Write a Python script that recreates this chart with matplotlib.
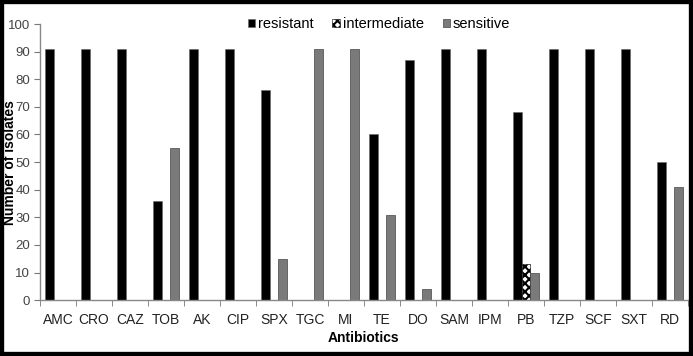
import numpy as np
import matplotlib
matplotlib.use('Agg')
import matplotlib.pyplot as plt
from matplotlib.patches import Rectangle

plt.rcParams['font.family'] = ['Liberation Sans', 'DejaVu Sans']
plt.rcParams['hatch.linewidth'] = 1.5

# Data
antibiotics = ['AMC', 'CRO', 'CAZ', 'TOB', 'AK', 'CIP', 'SPX', 'TGC', 'MI',
               'TE', 'DO', 'SAM', 'IPM', 'PB', 'TZP', 'SCF', 'SXT', 'RD']
resistant = [91, 91, 91, 36, 91, 91, 76, 0, 0, 60, 87, 91, 91, 68, 91, 91, 91, 50]
intermediate = [0, 0, 0, 0, 0, 0, 0, 0, 0, 0, 0, 0, 0, 13, 0, 0, 0, 0]
sensitive = [0, 0, 0, 55, 0, 0, 15, 91, 91, 31, 4, 0, 0, 10, 0, 0, 0, 41]

fig = plt.figure(figsize=(6.93, 3.56), dpi=100)
fig.patch.set_facecolor('white')
ax = fig.add_axes([0.0577, 0.157, 0.935, 0.7755])

x = np.arange(len(antibiotics))
w = 0.235
ax.bar(x - w, resistant, w, color='black', edgecolor='#666666', linewidth=0.4,
       label='resistant')
ax.bar(x, intermediate, w, color='white', edgecolor='black', hatch='xxxx',
       linewidth=0.4, label='intermediate')
ax.bar(x + w, sensitive, w, color='#7a7a7a', edgecolor='#444444', linewidth=0.5,
       label='sensitive')

ax.set_xlim(-0.5, len(antibiotics) - 0.5)
ax.set_ylim(0, 100)
ax.set_yticks(range(0, 101, 10))
ax.set_xticks(x)
ax.set_xticklabels(antibiotics, fontsize=10, color='#222222')
ax.set_xticks(np.arange(-0.5, len(antibiotics)), minor=True)
ax.tick_params(axis='x', which='major', length=0, pad=9)
ax.tick_params(axis='x', which='minor', length=4, color='#777777', direction='out')
ax.tick_params(axis='y', length=4, color='#777777', labelsize=9.5,
               labelcolor='#444444', direction='out', pad=3)

for s in ['top', 'right']:
    ax.spines[s].set_visible(False)
for s in ['left', 'bottom']:
    ax.spines[s].set_color('#888888')
    ax.spines[s].set_linewidth(1.0)

ax.set_ylabel('Number of isolates', fontsize=10, fontweight='bold')
ax.yaxis.set_label_coords(-0.036, 0.5)
ax.set_xlabel('Antibiotics', fontsize=10, fontweight='bold', labelpad=3)

ax.legend(loc='center', bbox_to_anchor=(0.523, 1.0), ncol=3, frameon=False,
          fontsize=10.5, handlelength=0.5, handleheight=0.5, handletextpad=0.2,
          columnspacing=1.3)

# thick black frame around the whole image
fig.patches.append(Rectangle((0, 0), 1, 1, transform=fig.transFigure,
                             fill=False, edgecolor='black', linewidth=6))

fig.savefig('out.png', dpi=100, facecolor='white')
